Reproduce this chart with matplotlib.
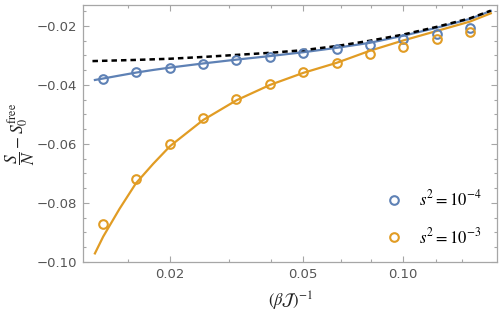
import matplotlib
matplotlib.use("Agg")
import matplotlib.pyplot as plt
from matplotlib.ticker import FixedLocator, NullFormatter, FuncFormatter

plt.rcParams['mathtext.fontset'] = 'stix'

# data points
x_pts = [0.0126, 0.0158, 0.0200, 0.0251, 0.0316, 0.0398, 0.0501, 0.0631, 0.0794, 0.1000, 0.1259, 0.1585]
blue_pts = [-0.0379, -0.0357, -0.0341, -0.0328, -0.0315, -0.0304, -0.0290, -0.0278, -0.0263, -0.0245, -0.0227, -0.0206]
orange_pts = [-0.0871, -0.0718, -0.0600, -0.0513, -0.0447, -0.0397, -0.0357, -0.0324, -0.0294, -0.0270, -0.0244, -0.0219]

# fitted curves
x_line = [0.0119, 0.0126, 0.0141, 0.0158, 0.0178, 0.0200, 0.0251, 0.0316, 0.0398, 0.0501, 0.0631, 0.0794, 0.1000, 0.1259, 0.1585, 0.183]
blue_line = [-0.0383, -0.0378, -0.0368, -0.0358, -0.0349, -0.0341, -0.0327, -0.0314, -0.0302, -0.0289, -0.0274, -0.0257, -0.0233, -0.0206, -0.0176, -0.0149]
orange_line = [-0.0971, -0.0914, -0.0820, -0.0733, -0.0667, -0.0607, -0.0519, -0.0452, -0.0400, -0.0359, -0.0325, -0.0284, -0.0249, -0.0217, -0.0185, -0.0157]

x_dash = [0.0117, 0.0126, 0.0158, 0.0200, 0.0251, 0.0316, 0.0398, 0.0501, 0.0631, 0.0794, 0.1000, 0.1259, 0.1585, 0.183]
dash_line = [-0.0319, -0.0318, -0.0315, -0.0311, -0.0305, -0.0298, -0.0291, -0.0282, -0.0268, -0.0250, -0.0229, -0.0203, -0.0174, -0.0148]

labels = [r'$s^2 = 10^{-4}$', r'$s^2 = 10^{-3}$']
x_major = [0.02, 0.05, 0.10]
x_minor = [0.015, 0.03, 0.04, 0.065, 0.08, 0.125, 0.15]

blue = '#5E81B5'
orange = '#E19C24'

fig = plt.figure(figsize=(5.0, 3.16), dpi=100)
ax = fig.add_axes([0.166, 0.171, 0.828, 0.813])

ax.plot(x_dash, dash_line, color='black', lw=1.8, ls=(0, (2.2, 1.6)), zorder=4)
ax.plot(x_line, blue_line, color=blue, lw=1.6, zorder=3)
ax.plot(x_line, orange_line, color=orange, lw=1.6, zorder=3)
ax.plot(x_pts, blue_pts, 'o', mfc='none', mec=blue, ms=6.2, mew=1.5, zorder=5, label=labels[0])
ax.plot(x_pts, orange_pts, 'o', mfc='none', mec=orange, ms=6.2, mew=1.5, zorder=5, label=labels[1])

ax.set_xscale('log')
ax.set_xlim(0.01096, 0.191)
ax.set_ylim(-0.10, -0.0129)

ax.xaxis.set_major_locator(FixedLocator(x_major))
ax.xaxis.set_minor_locator(FixedLocator(x_minor))
ax.xaxis.set_major_formatter(FuncFormatter(lambda v, p: f"{v:.2f}"))
ax.xaxis.set_minor_formatter(NullFormatter())
ax.yaxis.set_major_locator(FixedLocator([-0.10, -0.08, -0.06, -0.04, -0.02]))
ax.yaxis.set_minor_locator(FixedLocator([-0.095 + 0.005 * i for i in range(17)]))
ax.yaxis.set_major_formatter(FuncFormatter(lambda v, p: f"{v:.2f}".replace('-', '\u2212')))

gray = '#a6a6a6'
for s in ax.spines.values():
    s.set_color(gray)
    s.set_linewidth(0.9)
ax.tick_params(which='both', direction='in', top=True, right=True, color=gray,
               labelcolor='#555555', labelsize=9.5, width=0.8)
ax.tick_params(which='major', length=4.5, pad=4)
ax.tick_params(which='minor', length=2.5)

ax.set_xlabel(r'$(\beta\mathcal{J})^{-1}$', fontsize=12, color='#222222', labelpad=7)
ax.set_ylabel(r'$\dfrac{S}{N} - S_0^{\rm free}$', fontsize=12.5, color='#222222', labelpad=0)

leg = ax.legend(loc='lower right', bbox_to_anchor=(1.0, 0.0), frameon=False,
                fontsize=12, handletextpad=0.9, labelspacing=1.05, handlelength=1.2)

fig.savefig('out.png', dpi=100)
